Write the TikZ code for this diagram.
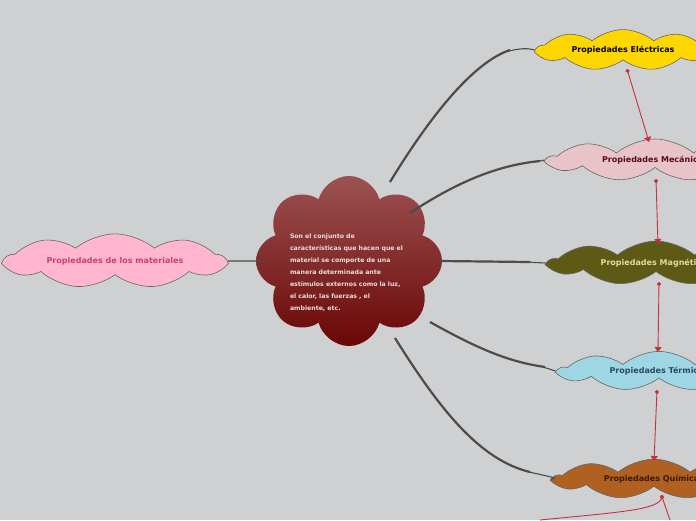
\documentclass[tikz,border=0pt]{standalone}
\usepackage{fontspec}
\setmainfont{DejaVu Sans}
\usetikzlibrary{shapes.symbols,arrows.meta}
\definecolor{bg}{HTML}{CFD0D2}
\definecolor{lnk}{HTML}{C8303F}
\tikzset{
  x=1pt,y=-1pt,
  topic/.style={cloud, cloud puffs=9, cloud puff arc=80, aspect=6, draw=black!60, line width=0.6pt, inner sep=0pt, minimum width=180, minimum height=22, font=\fontsize{8}{9}\selectfont\bfseries},
  branch/.style={draw=black!70, line width=1.1pt},
  rel/.style={draw=lnk, line width=0.9pt, {Circle[length=4pt]}-{Triangle[length=5pt,width=7pt]}},
}
\begin{document}
\begin{tikzpicture}
\useasboundingbox (0,0) rectangle (696,520);
\fill[bg] (0,0) rectangle (696,520);
\begin{scope}
\clip (0,0) rectangle (696,520);
% center node
\node[cloud, cloud puffs=8, aspect=1.1, minimum width=186, minimum height=170, top color={rgb,255:red,156;green,82;blue,82}, bottom color={rgb,255:red,106;green,6;blue,6}, draw=none, inner sep=0pt] (c) at (349,261) {};
\node[align=left, text width=132, font=\fontsize{6.2}{12}\selectfont\bfseries, text={rgb,255:red,240;green,220;blue,220}] (ct) at (356,273) {Son el conjunto de\\características que hacen que el\\material se comporte de una\\manera determinada ante\\estímulos externos como la luz,\\el calor, las fuerzas , el\\ambiente, etc.};
% topics
\node[topic, fill={rgb,255:red,255;green,182;blue,206}, text={rgb,255:red,200;green,64;blue,112}, minimum width=220] (m) at (115,261) {Propiedades de los materiales};
\node[topic, fill={rgb,255:red,255;green,215;blue,0}, text=black, minimum width=172] (e) at (623,50) {Propiedades Eléctricas};
\node[topic, fill={rgb,255:red,232;green,196;blue,200}, text={rgb,255:red,90;green,10;blue,26}, minimum width=214] (me) at (655,160) {Propiedades Mecánicas};
\node[topic, fill={rgb,255:red,92;green,90;blue,20}, text={rgb,255:red,224;green,220;blue,160}, minimum width=214] (ma) at (656,263) {Propiedades Magnéticas};
\node[topic, fill={rgb,255:red,159;green,214;blue,228}, text={rgb,255:red,42;green,74;blue,96}, minimum width=200] (t) at (659,371) {Propiedades Térmicas};
\node[topic, fill={rgb,255:red,176;green,96;blue,32}, text={rgb,255:red,58;green,26;blue,0}, minimum width=200] (q) at (654,479) {Propiedades Químicas};
% branches
\draw[branch] (c.center) ++(-80,0) -- (m.east);
\draw[branch, line width=2.2pt] (390,182) .. controls (440,100) and (480,60) .. (510,50);
\draw[branch] (505,52) .. controls (520,48) and (528,48) .. (e.west);
\draw[branch, line width=2.2pt] (410,213) .. controls (460,180) and (500,165) .. (540,161);
\draw[branch] (535,162) -- (me.west);
\draw[branch, line width=2.2pt] (440,261) -- (530,262);
\draw[branch] (525,262) -- (ma.west);
\draw[branch, line width=2.2pt] (430,322) .. controls (480,350) and (510,362) .. (545,367);
\draw[branch] (540,366) -- (t.west);
\draw[branch, line width=2.2pt] (395,338) .. controls (440,410) and (480,460) .. (530,472);
\draw[branch] (525,471) .. controls (550,477) and (560,478) .. (q.west);
% relations
\coordinate (eb) at (627,69); \coordinate (met) at (649,142);
\coordinate (meb) at (656,179); \coordinate (mat) at (658,244);
\coordinate (mab) at (659,282); \coordinate (tt) at (658,352);
\coordinate (tb) at (657,390); \coordinate (qt) at (654,461);
\coordinate (qb) at (662,497); \coordinate (x1) at (540,520); \coordinate (x2) at (670,520);
\draw[rel] (eb) -- (met);
\draw[rel] (meb) -- (mat);
\draw[rel] (mab) -- (tt);
\draw[rel] (tb) -- (qt);
\draw[draw=lnk, line width=0.9pt] (qb) .. controls (660,510) and (620,512) .. (x1);
\draw[draw=lnk, line width=0.9pt] (qb) -- (x2);
\fill[lnk] (qb) circle (2pt);
\end{scope}
\end{tikzpicture}
\end{document}
